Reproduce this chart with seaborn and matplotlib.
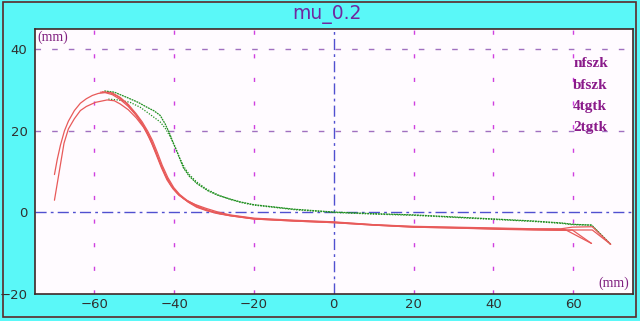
import matplotlib
matplotlib.use("Agg")
import matplotlib.pyplot as plt
import seaborn as sns
import pandas as pd
from matplotlib.patches import Rectangle

# ---- data ----
title = "mu_0.2"
legend_labels = ["nfszk", "bfszk", "4tgtk", "2tgtk"]
x_ticks = [-60, -40, -20, 0, 20, 40, 60]
y_ticks = [-20, 0, 20, 40]

g1_x = [-57.5, -55, -51.8, -49, -46.8, -45, -43.5, -42.3, -41.2, -40.2, -39, -37.7, -36.3, -34.3, -31.5, -29, -26, -23.5, -20, -10, 0, 10, 20, 30, 40, 50, 57.3, 59.8, 64.6, 69.4]
g1_y = [29.8, 29.5, 28.2, 27, 25.8, 24.9, 23.8, 21.8, 19.5, 17, 14.2, 11, 9, 7.1, 5.3, 4.2, 3.3, 2.6, 1.9, 0.8, 0.1, -0.3, -0.6, -1.1, -1.6, -2.1, -2.6, -2.9, -3.1, -7.8]

g2_x = [-56.5, -54, -51, -48.5, -46.8, -45, -43.5, -42.2, -41, -39.8, -38.6, -37.4, -36.2, -34.5, -32, -29, -26, -23, -20, -10, 0, 10, 20, 30, 40, 50, 57.3, 59.8, 64.6, 69.4]
g2_y = [27.8, 27.6, 27.0, 25.8, 24.6, 23.3, 22.2, 20.6, 18.6, 16.2, 13.3, 11, 9.3, 7.6, 5.8, 4.3, 3.2, 2.4, 1.8, 0.7, 0, -0.4, -0.7, -1.2, -1.7, -2.2, -2.7, -3.0, -3.1, -7.8]

ra_x = [-70, -69.3, -68.5, -67.5, -66.5, -65, -63.5, -62, -60.5, -59, -57.3, -55.5, -53.5, -51.5, -49.5, -48, -46.8, -45.6, -44.5, -43.2, -41.8, -40.3, -38.8, -36.8, -34.6, -32, -29, -26, -20, -10, 0, 10, 20, 30, 40, 50, 57, 59.8, 64.8, 69.4]
ra_y = [9.3, 13, 16.5, 20, 22.4, 25, 26.8, 27.9, 28.7, 29.2, 29.4, 28.9, 27.7, 26, 23.8, 21.6, 19.4, 16.9, 14.2, 11, 8, 5.8, 4.2, 2.9, 1.9, 1, 0.1, -0.6, -1.4, -1.9, -2.3, -3.0, -3.4, -3.6, -3.8, -4.0, -4.0, -3.6, -3.5, -7.8]

rb_x = [-70, -68.8, -67.6, -66.5, -65, -63.5, -62, -59.75, -56.8, -55, -53.5, -51.5, -49.5, -47.6, -46.2, -44.9, -43.6, -42.2, -40.7, -38.8, -36.6, -34.4, -31.8, -29, -26, -20, -10, 0, 10, 20, 30, 40, 50, 58, 59.8, 64.6]
rb_y = [3, 10, 17, 20.5, 23, 25, 26, 27, 27.6, 27.4, 26.6, 25.2, 23.2, 20.8, 18.3, 15.4, 12.4, 9.2, 6.6, 4.4, 2.6, 1.3, 0.4, -0.3, -0.8, -1.6, -2.1, -2.5, -3.1, -3.6, -3.8, -4.1, -4.3, -4.4, -4.3, -7.6]

rc_x = [-58.5, -56, -54, -52, -50, -48.5, -47, -45.8, -44.6, -43.5, -42.2, -40.8, -39.3, -37.7, -35.8, -33.8, -31.6, -29, -26, -20, -10, 0, 10, 20, 30, 40, 50, 58, 64.6]
rc_y = [29.5, 29.4, 28.4, 26.8, 24.5, 22.5, 20.2, 17.9, 15.0, 12.0, 9.1, 6.6, 4.8, 3.4, 2.2, 1.2, 0.5, -0.2, -0.7, -1.5, -2.0, -2.4, -3.0, -3.5, -3.7, -3.9, -4.1, -4.2, -7.6]

rd_x = [-58, -55.5, -53.5, -51.5, -49.5, -48, -46.6, -45.4, -44.2, -43.0, -41.6, -40.1, -38.6, -36.8, -34.8, -32.8, -30.8, -28.5, -26, -20, -10, 0, 10, 20, 30, 40, 50, 55.8, 64.8, 69.4]
rd_y = [29.6, 29.3, 28.2, 26.5, 24.2, 22.2, 19.9, 17.6, 14.7, 11.6, 8.6, 6.1, 4.4, 3.0, 1.9, 1.0, 0.3, -0.3, -0.8, -1.6, -2.1, -2.5, -3.1, -3.6, -3.8, -4.0, -4.2, -4.3, -4.3, -7.8]

series = [
    ("g1", g1_x, g1_y, "#1f8f1f", (0, (1.5, 0.6))),
    ("g2", g2_x, g2_y, "#1f8f1f", (0, (1, 1.2))),
    ("ra", ra_x, ra_y, "#e85a5a", "-"),
    ("rb", rb_x, rb_y, "#e85a5a", "-"),
    ("rc", rc_x, rc_y, "#e85a5a", "-"),
    ("rd", rd_x, rd_y, "#e85a5a", "-"),
]

sns.set_style("white")
plt.rcParams["font.family"] = ["DejaVu Sans"]

fig = plt.figure(figsize=(6.4, 3.21), dpi=100)
fig.patch.set_facecolor("#5af8f8")
fig.patches.append(Rectangle((3 / 640, 4 / 321), 633 / 640, 315 / 321,
                             transform=fig.transFigure, fill=False,
                             edgecolor="#5a2a2a", linewidth=1.2))

ax = fig.add_axes([34.5 / 640, 27 / 321, 598.5 / 640, 265 / 321])
ax.set_facecolor("#fffbff")

# grid lines
for xv in [-60, -40, -20, 20, 40, 60]:
    ax.axvline(xv, color="#d040e0", lw=1.0, dashes=(3, 14), zorder=1)
for yv in [20, 40]:
    ax.axhline(yv, color="#a070c0", lw=1.0, dashes=(4, 8), zorder=1)
ax.axhline(0, color="#5050d0", lw=1.0, dashes=(8, 3, 2, 3), zorder=1)
ax.axvline(0, color="#5050d0", lw=1.0, dashes=(8, 3, 2, 3), zorder=1)

for name, xs, ys, col, ls in series:
    df = pd.DataFrame({"x": xs, "y": ys})
    sns.lineplot(data=df, x="x", y="y", ax=ax, sort=False, estimator=None,
                 color=col, lw=0.9, linestyle=ls, zorder=3)

ax.set_xlim(-75, 75)
ax.set_ylim(-20, 45)
ax.set_xticks(x_ticks)
ax.set_yticks(y_ticks)
ax.set_xlabel("")
ax.set_ylabel("")
ax.tick_params(length=0, labelsize=9.5, labelcolor="#303030")
ax.tick_params(axis="y", pad=5)
ax.tick_params(axis="x", pad=3)
for s in ax.spines.values():
    s.set_color("#402828")
    s.set_linewidth(1.2)
    s.set_visible(True)

serif = ["Liberation Serif", "DejaVu Serif"]
ax.text(0.004, 0.995, "(mm)", transform=ax.transAxes, ha="left", va="top",
        family=serif, fontsize=10, color="#802080")
ax.text(0.994, 0.015, "(mm)", transform=ax.transAxes, ha="right", va="bottom",
        family=serif, fontsize=10, color="#802080")

for i, lab in enumerate(legend_labels):
    ax.text(0.9, 0.868 - i * 0.0795, lab, transform=ax.transAxes, ha="left",
            va="center", family=serif, fontweight="bold", fontsize=11,
            color="#8a1a8a")

fig.text(327 / 640, 1 - 15 / 321, title, ha="center", va="center",
         fontsize=13.5, color="#7028a0")

fig.savefig("out.png", dpi=100, facecolor=fig.get_facecolor())
